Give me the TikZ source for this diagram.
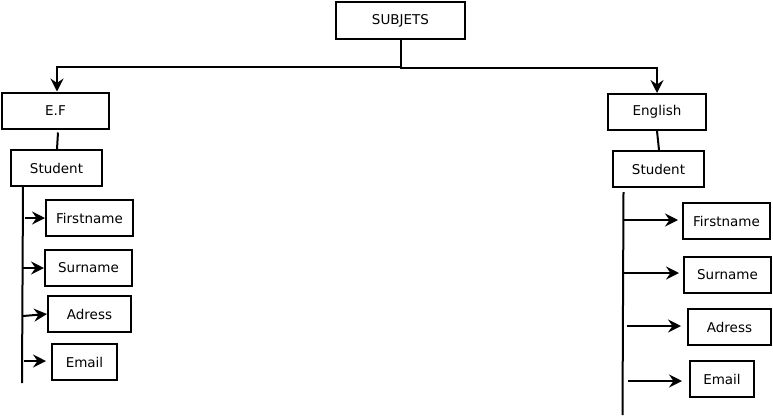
\documentclass[tikz,border=0pt]{standalone}
\usepackage{fontspec}
\setmainfont{DejaVu Sans}
\usetikzlibrary{arrows.meta}
\begin{document}
\begin{tikzpicture}[x=1pt,y=-1pt,
  box/.style={draw, line width=2pt, rectangle, inner sep=0pt, minimum height=36pt, font=\fontsize{13.5}{15}\selectfont},
  conn/.style={line width=2pt},
  arr/.style={conn, -{Stealth[length=13pt,width=13pt,inset=4.5pt]}}]
\useasboundingbox (0,0) rectangle (773,416);
% boxes
\node[box, minimum width=129pt, minimum height=37pt] (subj) at (400.5,20.5) {SUBJETS};
\node[box, minimum width=107pt] (ef) at (55.5,110.5) {E.F};
\node[box, minimum width=91pt] (stl) at (56.5,168) {Student};
\node[box, minimum width=87pt] (fnl) at (89.5,218) {Firstname};
\node[box, minimum width=87pt] (snl) at (88.5,268) {Surname};
\node[box, minimum width=83pt] (adl) at (89.5,314) {Adress};
\node[box, minimum width=65pt] (eml) at (84.5,362) {Email};
\node[box, minimum width=98pt] (en) at (657,112) {English};
\node[box, minimum width=91pt] (str) at (658.5,169) {Student};
\node[box, minimum width=87pt] (fnr) at (726.5,221) {Firstname};
\node[box, minimum width=87pt] (snr) at (727.5,275) {Surname};
\node[box, minimum width=83pt] (adr) at (729.5,327) {Adress};
\node[box, minimum width=64pt] (emr) at (722,379) {Email};
% top connectors
\coordinate (j) at (400.5,67);
\coordinate (jl) at (57,67);
\coordinate (jr) at (657,68);
\draw[conn] (subj.south) -- (j);
\draw[arr] (j) -- (jl) -- (jl |- ef.north);
\draw[arr] (j) |- (jr) -- (jr |- en.north);
% subject to student
\draw[conn] ([shift={(2.5,3)}]ef.south) -- ([xshift=0.5pt]stl.north);
\draw[conn] (en.south) -- ([xshift=0.5pt]str.north);
% left trunk
\coordinate (lt) at (23,187);
\coordinate (lb) at (22,383);
\draw[conn] (lt) -- (lb);
\coordinate (la) at (25,218);
\coordinate (lbb) at (23,268);
\coordinate (lc) at (23,316);
\coordinate (ld) at (24,361);
\draw[arr] (la) -- (fnl.west);
\draw[arr] (lbb) -- (snl.west);
\draw[arr] (lc) -- (adl.west);
\draw[arr, shorten >=5pt] (ld) -- (eml.west |- ld);
% right trunk
\coordinate (rt) at (623.5,192);
\coordinate (rb) at (622.5,415);
\draw[conn] (rt) -- (rb);
\coordinate (ra) at (623,220);
\coordinate (rbb) at (624,273);
\coordinate (rc) at (627,326);
\coordinate (rd) at (628,381);
\draw[arr, shorten >=4pt] (ra) -- (fnr.west |- ra);
\draw[arr, shorten >=4pt] (rbb) -- (snr.west |- rbb);
\draw[arr, shorten >=6pt] (rc) -- (adr.west |- rc);
\draw[arr, shorten >=7pt] (rd) -- (emr.west |- rd);
\end{tikzpicture}
\end{document}
